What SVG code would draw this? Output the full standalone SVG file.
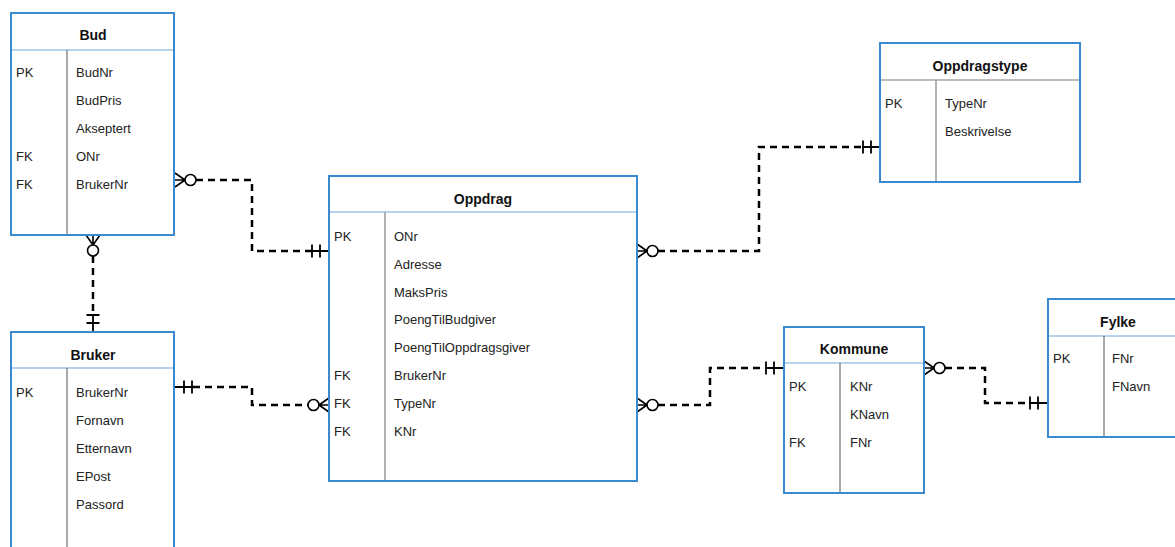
<svg xmlns="http://www.w3.org/2000/svg" width="1175" height="547" viewBox="0 0 1175 547">
<defs>
<style>
.box{fill:#fff;stroke:#3b8ad0;stroke-width:2}
.hdr{stroke:#9cc4e8;stroke-width:1.5}
.hdrg{stroke:#a6a6a6;stroke-width:1.5}
.div{stroke:#555;stroke-width:1}
.divg{stroke:#999;stroke-width:1.5}
.title{font-family:"Liberation Sans",Arial,sans-serif;font-size:14px;font-weight:bold;fill:#111;text-anchor:middle}
.t{font-family:"Liberation Sans",Arial,sans-serif;font-size:13px;fill:#222}
.conn{fill:none;stroke:#000;stroke-width:2.5;stroke-dasharray:7 5}
</style>
<marker id="zeroMany" markerUnits="userSpaceOnUse" markerWidth="30" markerHeight="30" refX="0" refY="0" orient="auto-start-reverse" overflow="visible">
<g fill="none" stroke="#000" stroke-width="1.6">
<circle cx="5.5" cy="0" r="5.5" fill="#fff"/>
<path d="M11,0 L21,0 M11,0 L21,-7 M11,0 L21,7"/>
</g>
</marker>
<marker id="oneOne" markerUnits="userSpaceOnUse" markerWidth="30" markerHeight="30" refX="0" refY="0" orient="auto-start-reverse" overflow="visible">
<g fill="none" stroke="#000" stroke-width="1.8">
<path d="M0,0 L18,0 M1,-6.5 L1,6.5 M9,-6.5 L9,6.5"/>
</g>
</marker>
</defs>
<rect width="1175" height="547" fill="#fff"/>

<g id="connectors">
<path class="conn" d="M196,180 H252 V251 H311" marker-start="url(#zeroMany)" marker-end="url(#oneOne)"/>
<path class="conn" d="M93,256 V314" marker-start="url(#zeroMany)" marker-end="url(#oneOne)"/>
<path class="conn" d="M193,387 H252 V405 H308" marker-start="url(#oneOne)" marker-end="url(#zeroMany)"/>
<path class="conn" d="M658,251 H759 V147 H862" marker-start="url(#zeroMany)" marker-end="url(#oneOne)"/>
<path class="conn" d="M658,405 H710 V368 H765" marker-start="url(#zeroMany)" marker-end="url(#oneOne)"/>
<path class="conn" d="M945,368 H985 V403 H1029" marker-start="url(#zeroMany)" marker-end="url(#oneOne)"/>
</g>

<g id="Bud">
<rect class="box" x="11" y="13" width="163" height="222"/>
<line class="hdr" x1="12" y1="50" x2="173" y2="50"/>
<line class="div" x1="67" y1="50" x2="67" y2="234"/>
<text class="title" x="93" y="40">Bud</text>
<text class="t" x="16" y="77">PK</text><text class="t" x="76" y="77">BudNr</text>
<text class="t" x="76" y="105">BudPris</text>
<text class="t" x="76" y="133">Akseptert</text>
<text class="t" x="16" y="161">FK</text><text class="t" x="76" y="161">ONr</text>
<text class="t" x="16" y="189">FK</text><text class="t" x="76" y="189">BrukerNr</text>
</g>

<g id="Bruker">
<rect class="box" x="11" y="332" width="163" height="240"/>
<line class="hdr" x1="12" y1="368" x2="173" y2="368"/>
<line class="div" x1="67" y1="368" x2="67" y2="560"/>
<text class="title" x="93" y="360">Bruker</text>
<text class="t" x="16" y="397">PK</text><text class="t" x="76" y="397">BrukerNr</text>
<text class="t" x="76" y="425">Fornavn</text>
<text class="t" x="76" y="453">Etternavn</text>
<text class="t" x="76" y="481">EPost</text>
<text class="t" x="76" y="509">Passord</text>
</g>

<g id="Oppdrag">
<rect class="box" x="329" y="176" width="308" height="305"/>
<line class="hdr" x1="330" y1="212" x2="636" y2="212"/>
<line class="divg" x1="385" y1="212" x2="385" y2="480"/>
<text class="title" x="483" y="204">Oppdrag</text>
<text class="t" x="334" y="241">PK</text><text class="t" x="394" y="241">ONr</text>
<text class="t" x="394" y="269">Adresse</text>
<text class="t" x="394" y="297">MaksPris</text>
<text class="t" x="394" y="324">PoengTilBudgiver</text>
<text class="t" x="394" y="352">PoengTilOppdragsgiver</text>
<text class="t" x="334" y="380">FK</text><text class="t" x="394" y="380">BrukerNr</text>
<text class="t" x="334" y="408">FK</text><text class="t" x="394" y="408">TypeNr</text>
<text class="t" x="334" y="436">FK</text><text class="t" x="394" y="436">KNr</text>
</g>

<g id="Oppdragstype">
<rect class="box" x="880" y="43" width="200" height="139"/>
<line class="hdrg" x1="881" y1="80" x2="1079" y2="80"/>
<line class="divg" x1="936" y1="80" x2="936" y2="181"/>
<text class="title" x="980" y="71">Oppdragstype</text>
<text class="t" x="885" y="108">PK</text><text class="t" x="945" y="108">TypeNr</text>
<text class="t" x="945" y="136">Beskrivelse</text>
</g>

<g id="Kommune">
<rect class="box" x="784" y="327" width="140" height="166"/>
<line class="hdr" x1="785" y1="363" x2="923" y2="363"/>
<line class="div" x1="840" y1="363" x2="840" y2="492"/>
<text class="title" x="854" y="354">Kommune</text>
<text class="t" x="789" y="391">PK</text><text class="t" x="850" y="391">KNr</text>
<text class="t" x="850" y="419">KNavn</text>
<text class="t" x="789" y="447">FK</text><text class="t" x="850" y="447">FNr</text>
</g>

<g id="Fylke">
<rect class="box" x="1048" y="299" width="142" height="138"/>
<line class="hdr" x1="1049" y1="336" x2="1189" y2="336"/>
<line class="div" x1="1104" y1="336" x2="1104" y2="436"/>
<text class="title" x="1118" y="327">Fylke</text>
<text class="t" x="1053" y="363">PK</text><text class="t" x="1112" y="363">FNr</text>
<text class="t" x="1112" y="391">FNavn</text>
</g>
</svg>
